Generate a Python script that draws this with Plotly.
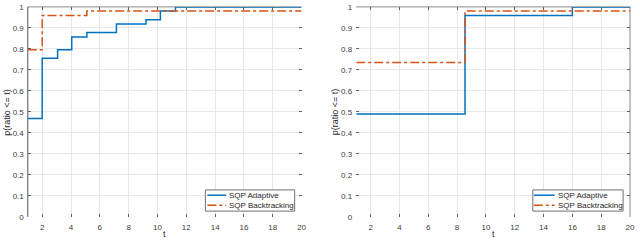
import plotly.graph_objects as go

# Left panel
t_left_adapt = [1, 2, 3.07, 4.05, 5.1, 7.15, 9.2, 10.2, 11.25, 20]
p_left_adapt = [0.469, 0.755, 0.796, 0.857, 0.878, 0.918, 0.939, 0.980, 1.0, 1.0]
t_left_back = [1, 2, 5.1, 20]
p_left_back = [0.796, 0.959, 0.980, 0.980]

# Right panel
t_right_adapt = [1, 8.55, 16, 20]
p_right_adapt = [0.490, 0.959, 1.0, 1.0]
t_right_back = [1, 8.55, 20]
p_right_back = [0.735, 0.980, 0.980]

series_names = ["SQP Adaptive", "SQP Backtracking"]
x_ticks = [2, 4, 6, 8, 10, 12, 14, 16, 18, 20]
y_ticks = [0, 0.1, 0.2, 0.3, 0.4, 0.5, 0.6, 0.7, 0.8, 0.9, 1]
y_ticktext = ["0", "0.1", "0.2", "0.3", "0.4", "0.5", "0.6", "0.7", "0.8", "0.9", "1"]

BLUE = "#0072BD"
ORANGE = "#D95319"
FONT = "Liberation Sans, Arial, sans-serif"
W, H = 640, 245

fig = go.Figure()
fig.add_trace(go.Scatter(x=t_left_adapt, y=p_left_adapt, mode="lines", line_shape="hv",
                         line=dict(color=BLUE, width=1.5), name=series_names[0],
                         xaxis="x", yaxis="y", showlegend=False))
fig.add_trace(go.Scatter(x=t_left_back, y=p_left_back, mode="lines", line_shape="hv",
                         line=dict(color=ORANGE, width=1.5, dash="dashdot"), name=series_names[1],
                         xaxis="x", yaxis="y", showlegend=False))
fig.add_trace(go.Scatter(x=t_right_adapt, y=p_right_adapt, mode="lines", line_shape="hv",
                         line=dict(color=BLUE, width=1.5), name=series_names[0],
                         xaxis="x2", yaxis="y2", showlegend=False))
fig.add_trace(go.Scatter(x=t_right_back, y=p_right_back, mode="lines", line_shape="hv",
                         line=dict(color=ORANGE, width=1.5, dash="dashdot"), name=series_names[1],
                         xaxis="x2", yaxis="y2", showlegend=False))

ydom = [1 - 221 / H, 1 - 3 / H]

axis_common = dict(showline=False, mirror="ticks",
                   ticks="inside", ticklen=3, tickcolor="#606060",
                   showgrid=True, gridcolor="#e8e8e8", gridwidth=1, zeroline=False,
                   ticklabeloverflow="allow",
                   tickfont=dict(family=FONT, size=8, color="#404040"))

fig.update_layout(
    width=W, height=H,
    margin=dict(l=0, r=0, t=0, b=0),
    paper_bgcolor="white", plot_bgcolor="white",
    font=dict(family=FONT, size=8, color="#404040"),
    showlegend=False,
    xaxis=dict(domain=[28 / W, 304 / W], range=[1, 20], tickvals=x_ticks, anchor="y",
               ticklabelstandoff=4, **axis_common),
    yaxis=dict(domain=ydom, range=[0, 1], tickvals=y_ticks, ticktext=y_ticktext, anchor="x",
               ticklabelstandoff=3, **axis_common),
    xaxis2=dict(domain=[359 / W, 635 / W], range=[1, 20], tickvals=x_ticks, anchor="y2",
                ticklabelstandoff=4, **axis_common),
    yaxis2=dict(domain=ydom, range=[0, 1], tickvals=y_ticks, ticktext=y_ticktext, anchor="x2",
                ticklabelstandoff=3, **axis_common),
)

# box lines drawn as in the reference (visible edges only)
fig.add_shape(type="line", xref="x domain", yref="y domain", x0=0, x1=0, y0=0, y1=1,
              line=dict(color="#555555", width=1), layer="above")
fig.add_shape(type="line", xref="x domain", yref="y domain", x0=0, x1=1, y0=1, y1=1,
              line=dict(color="#8a8a8a", width=1), layer="below")
fig.add_shape(type="line", xref="x2 domain", yref="y2 domain", x0=0, x1=1, y0=1, y1=1,
              line=dict(color="#8a8a8a", width=1), layer="below")
fig.add_shape(type="line", xref="x2 domain", yref="y2 domain", x0=1, x1=1, y0=0, y1=1,
              line=dict(color="#8a8a8a", width=1), layer="below")

def px(x):
    return x / W

def py(y):
    return 1 - y / H

# axis titles
for xc, yc_left in [(166, 7), (497, 338)]:
    fig.add_annotation(x=px(xc), y=py(238.5), xref="paper", yref="paper", text="t",
                       showarrow=False, font=dict(family=FONT, size=9, color="#262626"),
                       xanchor="center", yanchor="middle")
    fig.add_annotation(x=px(yc_left), y=py(112), xref="paper", yref="paper", text="p(ratio <= t)",
                       showarrow=False, textangle=-90, font=dict(family=FONT, size=9, color="#262626"),
                       xanchor="center", yanchor="middle")

# custom legends (box, line samples, labels)
for (bx0, bx1, lx0, lx1) in [(207, 297, 209, 228), (537, 628, 538, 559)]:
    fig.add_shape(type="rect", xref="paper", yref="paper",
                  x0=px(bx0), x1=px(bx1), y0=py(215), y1=py(193),
                  fillcolor="white", line=dict(color="#707070", width=1), layer="above")
    for i, (col, dash) in enumerate([(BLUE, "solid"), (ORANGE, "dashdot")]):
        yy = 198.5 + i * 10.5
        fig.add_shape(type="line", xref="paper", yref="paper",
                      x0=px(lx0), x1=px(lx1), y0=py(yy), y1=py(yy),
                      line=dict(color=col, width=1.5, dash=dash), layer="above")
        fig.add_annotation(x=px(lx1 + 1), y=py(yy), xref="paper", yref="paper",
                           text=series_names[i], showarrow=False,
                           font=dict(family=FONT, size=8, color="#262626"),
                           xanchor="left", yanchor="middle")

fig.write_html("out.html", config={"displayModeBar": False},
               post_script="document.body.style.margin='0px';document.body.style.padding='0px';")
